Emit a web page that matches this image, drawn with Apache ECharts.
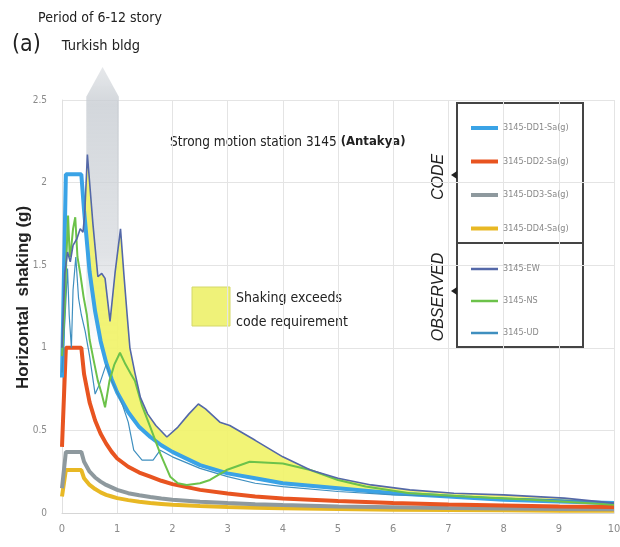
<!DOCTYPE html>
<html><head><meta charset="utf-8">
<script src="https://cdn.jsdelivr.net/npm/echarts@6/dist/echarts.min.js"></script>
<style>html,body{margin:0;padding:0;background:#fff}#c{width:620px;height:547px}</style>
</head><body><div id="c"></div>
<script>
// ---- data (period T in s, spectral acceleration in g) ----
const codeT = [0,0.07,0.35,0.4,0.5,0.6,0.7,0.8,0.9,1.0,1.2,1.4,1.6,1.8,2.0,2.5,3,3.5,4,5,6,7,8,9,10];
const dd1 = [0.82,2.05,2.05,1.83,1.46,1.22,1.04,0.91,0.81,0.73,0.61,0.52,0.46,0.41,0.37,0.29,0.24,0.21,0.18,0.15,0.12,0.10,0.08,0.07,0.06];
const dd2 = [0.40,1.00,1.00,0.84,0.67,0.56,0.48,0.42,0.37,0.33,0.28,0.245,0.22,0.195,0.175,0.14,0.118,0.10,0.088,0.072,0.06,0.052,0.046,0.04,0.036];
const dd3 = [0.15,0.37,0.37,0.31,0.25,0.215,0.19,0.17,0.155,0.14,0.12,0.107,0.097,0.088,0.08,0.068,0.06,0.053,0.048,0.04,0.035,0.03,0.027,0.024,0.022];
const dd4 = [0.10,0.26,0.26,0.21,0.17,0.145,0.125,0.11,0.10,0.09,0.078,0.068,0.06,0.055,0.05,0.042,0.036,0.032,0.028,0.024,0.02,0.018,0.016,0.014,0.013];

const ewT = [0,0.05,0.1,0.15,0.2,0.27,0.33,0.38,0.41,0.46,0.56,0.65,0.72,0.78,0.87,0.96,1.06,1.12,1.18,1.23,1.32,1.42,1.55,1.7,1.9,2.1,2.3,2.47,2.6,2.86,3.04,3.5,4.0,4.5,5.0,5.6,6.3,7.1,8,9.1,10];
const ewV = [1.0,1.45,1.58,1.52,1.62,1.66,1.72,1.70,1.80,2.17,1.75,1.43,1.45,1.42,1.16,1.45,1.72,1.45,1.2,1.0,0.85,0.70,0.60,0.53,0.46,0.52,0.60,0.66,0.63,0.55,0.53,0.44,0.34,0.26,0.21,0.17,0.14,0.12,0.11,0.09,0.06];

const nsT = [0,0.05,0.08,0.11,0.14,0.16,0.2,0.24,0.28,0.33,0.39,0.45,0.5,0.57,0.65,0.72,0.78,0.86,0.95,1.05,1.15,1.25,1.32,1.45,1.6,1.78,1.96,2.1,2.26,2.5,2.68,2.98,3.4,4.0,4.5,5.0,5.5,6.3,7.3,8.5,10];
const nsV = [0.95,1.25,1.55,1.80,1.55,1.58,1.72,1.79,1.55,1.45,1.31,1.2,1.05,0.93,0.80,0.72,0.64,0.80,0.90,0.97,0.90,0.84,0.80,0.65,0.52,0.36,0.22,0.18,0.17,0.18,0.20,0.26,0.31,0.30,0.26,0.20,0.16,0.12,0.10,0.08,0.05];

const udT = [0,0.05,0.1,0.13,0.17,0.2,0.25,0.3,0.35,0.42,0.5,0.6,0.68,0.8,0.9,1.0,1.1,1.2,1.3,1.45,1.65,1.78,2.0,2.5,3.0,3.5,4.0,5.0,6.0,7.0,8.0,9.0,10.0];
const udV = [0.85,1.15,1.48,1.2,1.0,1.35,1.55,1.3,1.2,1.1,0.95,0.72,0.78,0.9,0.8,0.73,0.65,0.55,0.38,0.32,0.32,0.38,0.34,0.27,0.22,0.18,0.16,0.13,0.11,0.10,0.09,0.08,0.06];

const periodBand = [0.44, 1.03];   // period of 6-12 story Turkish buildings
const fillStart = 0.4;             // where observed (EW) first exceeds code DD1
const seriesNames = ['3145-DD1-Sa(g)','3145-DD2-Sa(g)','3145-DD3-Sa(g)','3145-DD4-Sa(g)','3145-EW','3145-NS','3145-UD'];
const xTickLabels = ['0','1','2','3','4','5','6','7','8','9','10'];
const yTickLabels = ['0','0.5','1','1.5','2','2.5'];

// ---- chart ----
const NARROW = '"Liberation Sans Narrow","DejaVu Sans Condensed","Liberation Sans",sans-serif';
const pairs = (xs, ys) => xs.map((t, i) => [t, ys[i]]);
const chart = echarts.init(document.getElementById('c'), null, {renderer: 'canvas'});

const lineSeries = (name, xs, ys, color, width, z) => ({
  name, type: 'line', data: pairs(xs, ys), showSymbol: false, symbol: 'none',
  color, lineStyle: {color, width}, z, silent: true, animation: false
});

chart.setOption({
  animation: false,
  grid: {left: 62, right: 6, top: 100, bottom: 34, containLabel: false, outerBoundsMode: 'none'},
  xAxis: {
    type: 'value', min: 0, max: 10, interval: 1,
    axisLine: {show: true, lineStyle: {color: '#d6d6d6'}},
    axisTick: {show: false},
    axisLabel: {color: '#8a8a8a', fontSize: 11, fontFamily: NARROW, margin: 11,
      formatter: v => xTickLabels[Math.round(v)]},
    splitLine: {show: true, lineStyle: {color: '#e4e4e4'}}
  },
  yAxis: {
    type: 'value', min: 0, max: 2.5, interval: 0.5,
    name: 'Horizontal  shaking (g)', nameLocation: 'middle', nameGap: 30, nameRotate: 90,
    nameMoveOverlap: false,
    nameTextStyle: {fontSize: 17, fontWeight: 'bold', color: '#222', fontFamily: '"Liberation Sans",sans-serif', padding: [0, 0, 0, 18]},
    axisLine: {show: true, lineStyle: {color: '#e0e0e0'}},
    axisTick: {show: false},
    axisLabel: {color: '#8a8a8a', fontSize: 10, fontFamily: NARROW, margin: 15,
      formatter: v => yTickLabels[Math.round(v * 2)]},
    splitLine: {show: true, lineStyle: {color: '#e4e4e4'}}
  },
  legend: [
    {data: seriesNames.slice(0, 4), orient: 'vertical', left: 466, top: 116, icon: 'rect',
     itemWidth: 27, itemHeight: 4, itemGap: 19.5, selectedMode: false,
     textStyle: {fontSize: 9, color: '#888', fontFamily: NARROW, lineHeight: 14}},
    {data: seriesNames.slice(4), orient: 'vertical', left: 466, top: 257, icon: 'rect',
     itemWidth: 27, itemHeight: 2.5, itemGap: 18, selectedMode: false,
     textStyle: {fontSize: 9, color: '#888', fontFamily: NARROW, lineHeight: 14}}
  ],
  series: [
    { // period band arrow (grey)
      type: 'custom', silent: true, clip: false, z: 0, data: [[periodBand[0], 2.5]],
      renderItem: (params, api) => {
        const a = periodBand[0], b = periodBand[1], m = (a + b) / 2;
        const pts = [[m, 2.7], [b, 2.52], [b, 0.95], [a, 0.95], [a, 2.52]].map(p => api.coord(p));
        return {type: 'polygon', shape: {points: pts}, style: {
          fill: new echarts.graphic.LinearGradient(0, 0, 0, 1, [
            {offset: 0, color: 'rgba(205,209,214,0.5)'},
            {offset: 0.13, color: 'rgba(200,205,211,0.8)'},
            {offset: 0.65, color: 'rgba(208,212,217,0.65)'},
            {offset: 1, color: 'rgba(225,228,232,0)'}])}};
      }
    },
    { // shaking exceeds code requirement (yellow)
      type: 'custom', silent: true, clip: true, z: 1, data: [[fillStart, 1]],
      renderItem: (params, api) => {
        const top = pairs(ewT, ewV).filter(p => p[0] >= fillStart);
        const bot = pairs(codeT, dd1).filter(p => p[0] >= fillStart).reverse();
        const pts = top.concat(bot).map(p => api.coord(p));
        return {type: 'polygon', shape: {points: pts}, style: {fill: '#f1f36a', opacity: 0.92}};
      }
    },
    lineSeries(seriesNames[3], codeT, dd4, '#e8b824', 4, 3),
    lineSeries(seriesNames[2], codeT, dd3, '#8e999e', 4, 3),
    lineSeries(seriesNames[1], codeT, dd2, '#e85420', 4, 3),
    lineSeries(seriesNames[0], codeT, dd1, '#3aa3e6', 4, 3),
    lineSeries(seriesNames[6], udT, udV, '#3f8fbf', 1.2, 4),
    lineSeries(seriesNames[5], nsT, nsV, '#6cc24a', 2, 4),
    lineSeries(seriesNames[4], ewT, ewV, '#5468a8', 1.6, 5)
  ],
  graphic: [
    {type: 'text', left: 12, top: 34, style: {text: '(a)', fontSize: 23, fill: '#222', fontFamily: NARROW}},
    {type: 'text', x: 100, y: 18, style: {text: 'Period of 6-12 story', fontSize: 14, fill: '#222', fontFamily: NARROW, align: 'center', verticalAlign: 'middle'}},
    {type: 'text', x: 101, y: 46, style: {text: 'Turkish bldg', fontSize: 14.5, fill: '#222', fontFamily: NARROW, align: 'center', verticalAlign: 'middle'}},
    {type: 'text', x: 170, y: 142, style: {
      text: '{n|Strong motion station 3145 }{b|(Antakya)}', verticalAlign: 'middle',
      rich: {n: {fontSize: 13.5, fill: '#222', fontFamily: NARROW}, b: {fontSize: 13, fill: '#222', fontWeight: 'bold', fontFamily: NARROW}}}},
    {type: 'rect', shape: {x: 192, y: 287, width: 38, height: 39}, style: {fill: '#eff279', stroke: '#d4d86a', lineWidth: 1}},
    {type: 'text', x: 236, y: 298, style: {text: 'Shaking exceeds', fontSize: 14, fill: '#222', fontFamily: NARROW, verticalAlign: 'middle'}},
    {type: 'text', x: 236, y: 322, style: {text: 'code requirement', fontSize: 14, fill: '#222', fontFamily: NARROW, verticalAlign: 'middle'}},
    {type: 'rect', shape: {x: 457, y: 103, width: 126, height: 140}, style: {fill: 'rgba(255,255,255,0.9)', stroke: '#444', lineWidth: 2}, z: -1},
    {type: 'rect', shape: {x: 457, y: 243, width: 126, height: 104}, style: {fill: 'rgba(255,255,255,0.9)', stroke: '#444', lineWidth: 2}, z: -1},
    {type: 'polygon', shape: {points: [[451, 175], [457, 171], [457, 179]]}, style: {fill: '#222'}},
    {type: 'polygon', shape: {points: [[451, 291], [457, 287], [457, 295]]}, style: {fill: '#222'}},
    {type: 'text', x: 439, y: 177, rotation: Math.PI / 2, style: {text: 'CODE', fontSize: 16, fontStyle: 'italic', fill: '#222', fontFamily: '"Liberation Sans",sans-serif', align: 'center', verticalAlign: 'middle'}},
    {type: 'text', x: 439, y: 297, rotation: Math.PI / 2, style: {text: 'OBSERVED', fontSize: 16, fontStyle: 'italic', fill: '#222', fontFamily: '"Liberation Sans",sans-serif', align: 'center', verticalAlign: 'middle'}}
  ]
});
</script></body></html>
